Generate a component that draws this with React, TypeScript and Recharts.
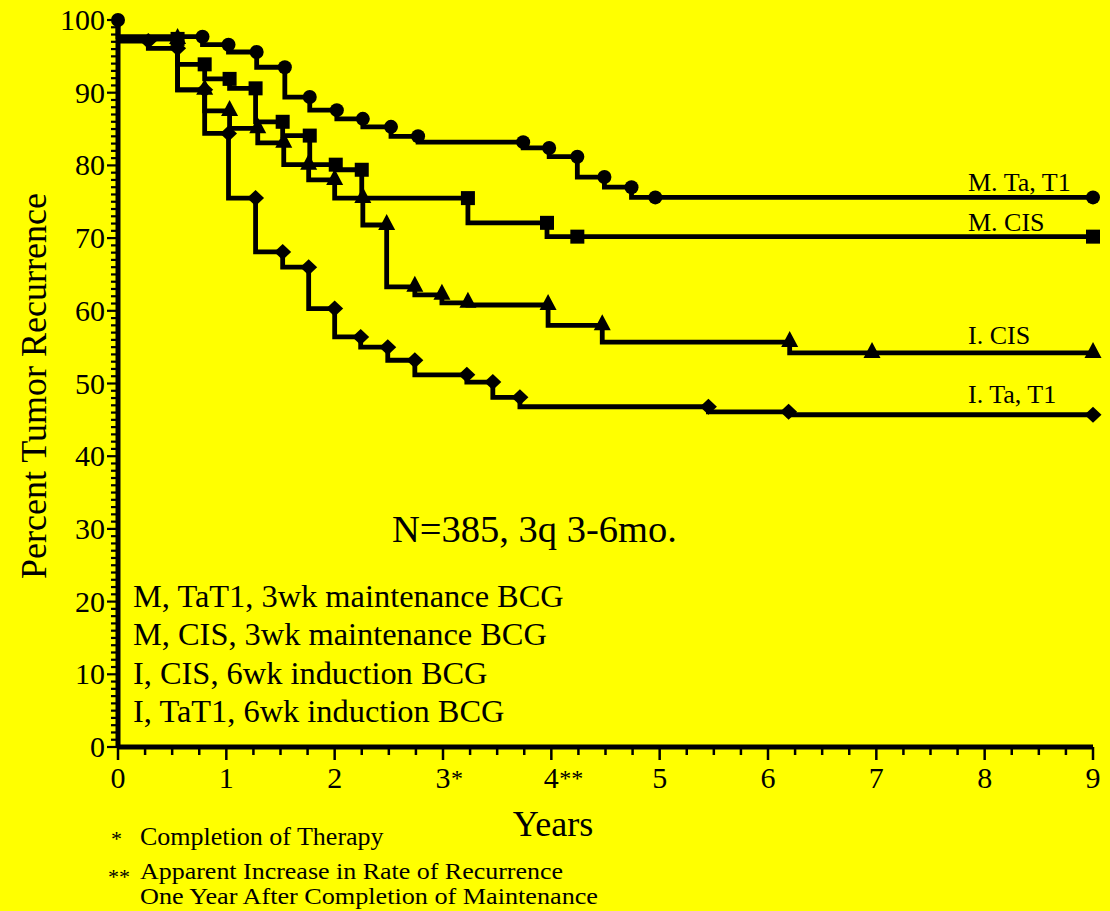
import React from "react";
import { ComposedChart, Line, Scatter, XAxis, YAxis } from "recharts";

const FONT = "'Liberation Serif', 'Times New Roman', serif";

// Step curves: event times (years) and the level (%) right after each event.
// Markers sit on the corner before each drop; censored marks are extra markers.
const mTaT1Start = 100;
const mTaT1Times = [0, 0.78, 1.02, 1.28, 1.54, 1.77, 2.02, 2.26, 2.52, 2.77, 3.74, 3.98, 4.24, 4.49, 4.74];
const mTaT1Levels = [97.7, 96.6, 95.6, 93.5, 89.4, 87.6, 86.4, 85.3, 84.0, 83.2, 82.4, 81.2, 78.4, 77.0, 75.6];
const mTaT1Censored = [4.96, 9];

const mCisStart = 97.4;
const mCisTimes = [0.55, 0.8, 1.03, 1.27, 1.52, 1.77, 2.01, 2.25, 3.23, 3.96];
const mCisLevels = [93.9, 91.9, 90.6, 86.0, 84.1, 80.1, 79.4, 75.5, 72.1, 70.2];
const mCisCensored = [4.24, 9];

const iCisStart = 97.4;
const iCisTimes = [0.55, 0.8, 1.03, 1.29, 1.53, 1.76, 2.0, 2.26, 2.48, 2.74, 2.99, 3.23, 3.97, 4.47, 6.2];
const iCisLevels = [90.4, 87.5, 85.1, 83.1, 80.1, 78.0, 75.5, 71.8, 63.3, 62.2, 61.1, 60.8, 58.0, 55.7, 54.2];
const iCisCensored = [6.96, 9];

const iTaT1Start = 97.1;
const iTaT1Times = [0.28, 0.55, 0.8, 1.02, 1.27, 1.52, 1.76, 2.0, 2.24, 2.49, 2.74, 3.22, 3.46, 3.71, 5.45, 6.19];
const iTaT1Levels = [96.1, 90.4, 84.4, 75.5, 68.1, 66.0, 60.3, 56.4, 55.0, 53.2, 51.2, 50.2, 48.1, 46.8, 46.1, 45.7];
const iTaT1Censored = [9];

const xTickLabels = ["0", "1", "2", "3*", "4**", "5", "6", "7", "8", "9"];
const yTickLabels = ["0", "10", "20", "30", "40", "50", "60", "70", "80", "90", "100"];

const legendLines = [
  "M, TaT1, 3wk maintenance BCG",
  "M, CIS, 3wk maintenance BCG",
  "I, CIS, 6wk induction BCG",
  "I, TaT1, 6wk induction BCG",
];

const X_MAX = 9;
const xTicks = Array.from({ length: X_MAX * 4 + 1 }, (_, i) => i / 4);
const yTicks = Array.from({ length: 101 }, (_, i) => i);

type Pt = { x: number; y: number };

function buildSteps(start: number, times: number[], levels: number[]): Pt[] {
  const pts: Pt[] = [{ x: 0, y: start }];
  times.forEach((t, i) => pts.push({ x: t, y: levels[i] }));
  pts.push({ x: X_MAX, y: levels[levels.length - 1] });
  return pts;
}

function levelAt(start: number, times: number[], levels: number[], t: number) {
  let v = start;
  times.forEach((tt, i) => {
    if (tt <= t) v = levels[i];
  });
  return v;
}

function buildMarks(start: number, times: number[], levels: number[], censored: number[]): Pt[] {
  const marks = times.map((t, i) => ({ x: t, y: i === 0 ? start : levels[i - 1] }));
  censored.forEach((t) => marks.push({ x: t, y: levelAt(start, times, levels, t) }));
  return marks;
}

const CircleMark = (p: any) => <circle cx={p.cx} cy={p.cy} r={7} fill="#000" />;
const SquareMark = (p: any) => <rect x={p.cx - 7} y={p.cy - 7} width={14} height={14} fill="#000" />;
const TriangleMark = (p: any) => (
  <path d={`M${p.cx},${p.cy - 11} L${p.cx + 8.5},${p.cy + 5} L${p.cx - 8.5},${p.cy + 5} Z`} fill="#000" />
);
const DiamondMark = (p: any) => (
  <path d={`M${p.cx},${p.cy - 8} L${p.cx + 8.5},${p.cy} L${p.cx},${p.cy + 8} L${p.cx - 8.5},${p.cy} Z`} fill="#000" />
);

const series = [
  { name: "M. Ta, T1", start: mTaT1Start, times: mTaT1Times, levels: mTaT1Levels, censored: mTaT1Censored, shape: CircleMark },
  { name: "M. CIS", start: mCisStart, times: mCisTimes, levels: mCisLevels, censored: mCisCensored, shape: SquareMark },
  { name: "I. CIS", start: iCisStart, times: iCisTimes, levels: iCisLevels, censored: iCisCensored, shape: TriangleMark },
  { name: "I. Ta, T1", start: iTaT1Start, times: iTaT1Times, levels: iTaT1Levels, censored: iTaT1Censored, shape: DiamondMark },
];

const XTick = ({ x, y, payload }: any) => {
  const v = payload.value as number;
  const major = Math.abs(v - Math.round(v)) < 1e-6;
  const label = major ? xTickLabels[Math.round(v)] : "";
  const digit = label.replace(/\*/g, "");
  const stars = label.slice(digit.length);
  return (
    <g>
      <line x1={x} x2={x} y1={y} y2={y + (major ? 13 : 8)} stroke="#000" strokeWidth={2.5} />
      {major && (
        <text x={x} y={y + 41} textAnchor="middle" fontFamily={FONT} fontSize={30} fill="#000">
          {digit}
        </text>
      )}
      {major && stars && (
        <text x={x + 8} y={y + 39} textAnchor="start" fontFamily={FONT} fontSize={24} fill="#000">
          {stars}
        </text>
      )}
    </g>
  );
};

const YTick = ({ x, y, payload }: any) => {
  const v = payload.value as number;
  const major = v % 10 === 0;
  return (
    <g>
      <line x1={x - (major ? 11 : 7)} x2={x} y1={y} y2={y} stroke="#000" strokeWidth={2.2} />
      {major && (
        <text x={x - 13} y={y + 10} textAnchor="end" fontFamily={FONT} fontSize={30} fill="#000">
          {yTickLabels[v / 10]}
        </text>
      )}
    </g>
  );
};

export default function App() {
  return (
    <div style={{ position: "absolute", left: 0, top: 0, width: 1110, height: 911, background: "#ffff00" }}>
      <ComposedChart
        width={1110}
        height={911}
        margin={{ top: 20, right: 17, bottom: 124, left: 58 }}
      >
        <XAxis
          type="number"
          dataKey="x"
          domain={[0, X_MAX]}
          ticks={xTicks}
          interval={0}
          tick={<XTick />}
          tickLine={false}
          tickSize={0}
          tickMargin={0}
          height={40}
          axisLine={{ stroke: "#000", strokeWidth: 5 }}
        />
        <YAxis
          type="number"
          dataKey="y"
          domain={[0, 100]}
          ticks={yTicks}
          interval={0}
          tick={<YTick />}
          tickLine={false}
          tickSize={0}
          tickMargin={0}
          width={60}
          axisLine={{ stroke: "#000", strokeWidth: 5 }}
        />
        {series.map((s) => (
          <Line
            key={"l" + s.name}
            data={buildSteps(s.start, s.times, s.levels)}
            dataKey="y"
            type="stepAfter"
            stroke="#000"
            strokeWidth={4.8}
            dot={false}
            activeDot={false}
            isAnimationActive={false}
          />
        ))}
        {series.map((s) => (
          <Scatter
            key={"s" + s.name}
            data={buildMarks(s.start, s.times, s.levels, s.censored)}
            dataKey="y"
            shape={s.shape}
            isAnimationActive={false}
          />
        ))}
      </ComposedChart>
      <svg
        width={1110}
        height={911}
        style={{ position: "absolute", left: 0, top: 0, pointerEvents: "none" }}
        fontFamily={FONT}
        fill="#000"
      >
        <text transform="translate(46,386) rotate(-90)" textAnchor="middle" fontSize={36}>
          Percent Tumor Recurrence
        </text>
        <text x={553} y={836} textAnchor="middle" fontSize={36}>
          Years
        </text>
        <text x={392} y={542} fontSize={38.5}>
          N=385, 3q 3-6mo.
        </text>
        {legendLines.map((l, i) => (
          <text key={l} x={133} y={607 + i * 38.3} fontSize={32.4}>
            {l}
          </text>
        ))}
        <text x={968} y={191} fontSize={26}>M. Ta, T1</text>
        <text x={968} y={231} fontSize={26}>M. CIS</text>
        <text x={968} y={344} fontSize={26}>I. CIS</text>
        <text x={968} y={403} fontSize={26}>I. Ta, T1</text>
        <text x={111} y={846} fontSize={22}>*</text>
        <text x={140} y={845} fontSize={26}>Completion of Therapy</text>
        <text x={108} y={884} fontSize={22}>**</text>
        <text x={140} y={879} fontSize={24} textLength={423} lengthAdjust="spacingAndGlyphs">
          Apparent Increase in Rate of Recurrence
        </text>
        <text x={140} y={904} fontSize={24} textLength={458} lengthAdjust="spacingAndGlyphs">
          One Year After Completion of Maintenance
        </text>
      </svg>
    </div>
  );
}
